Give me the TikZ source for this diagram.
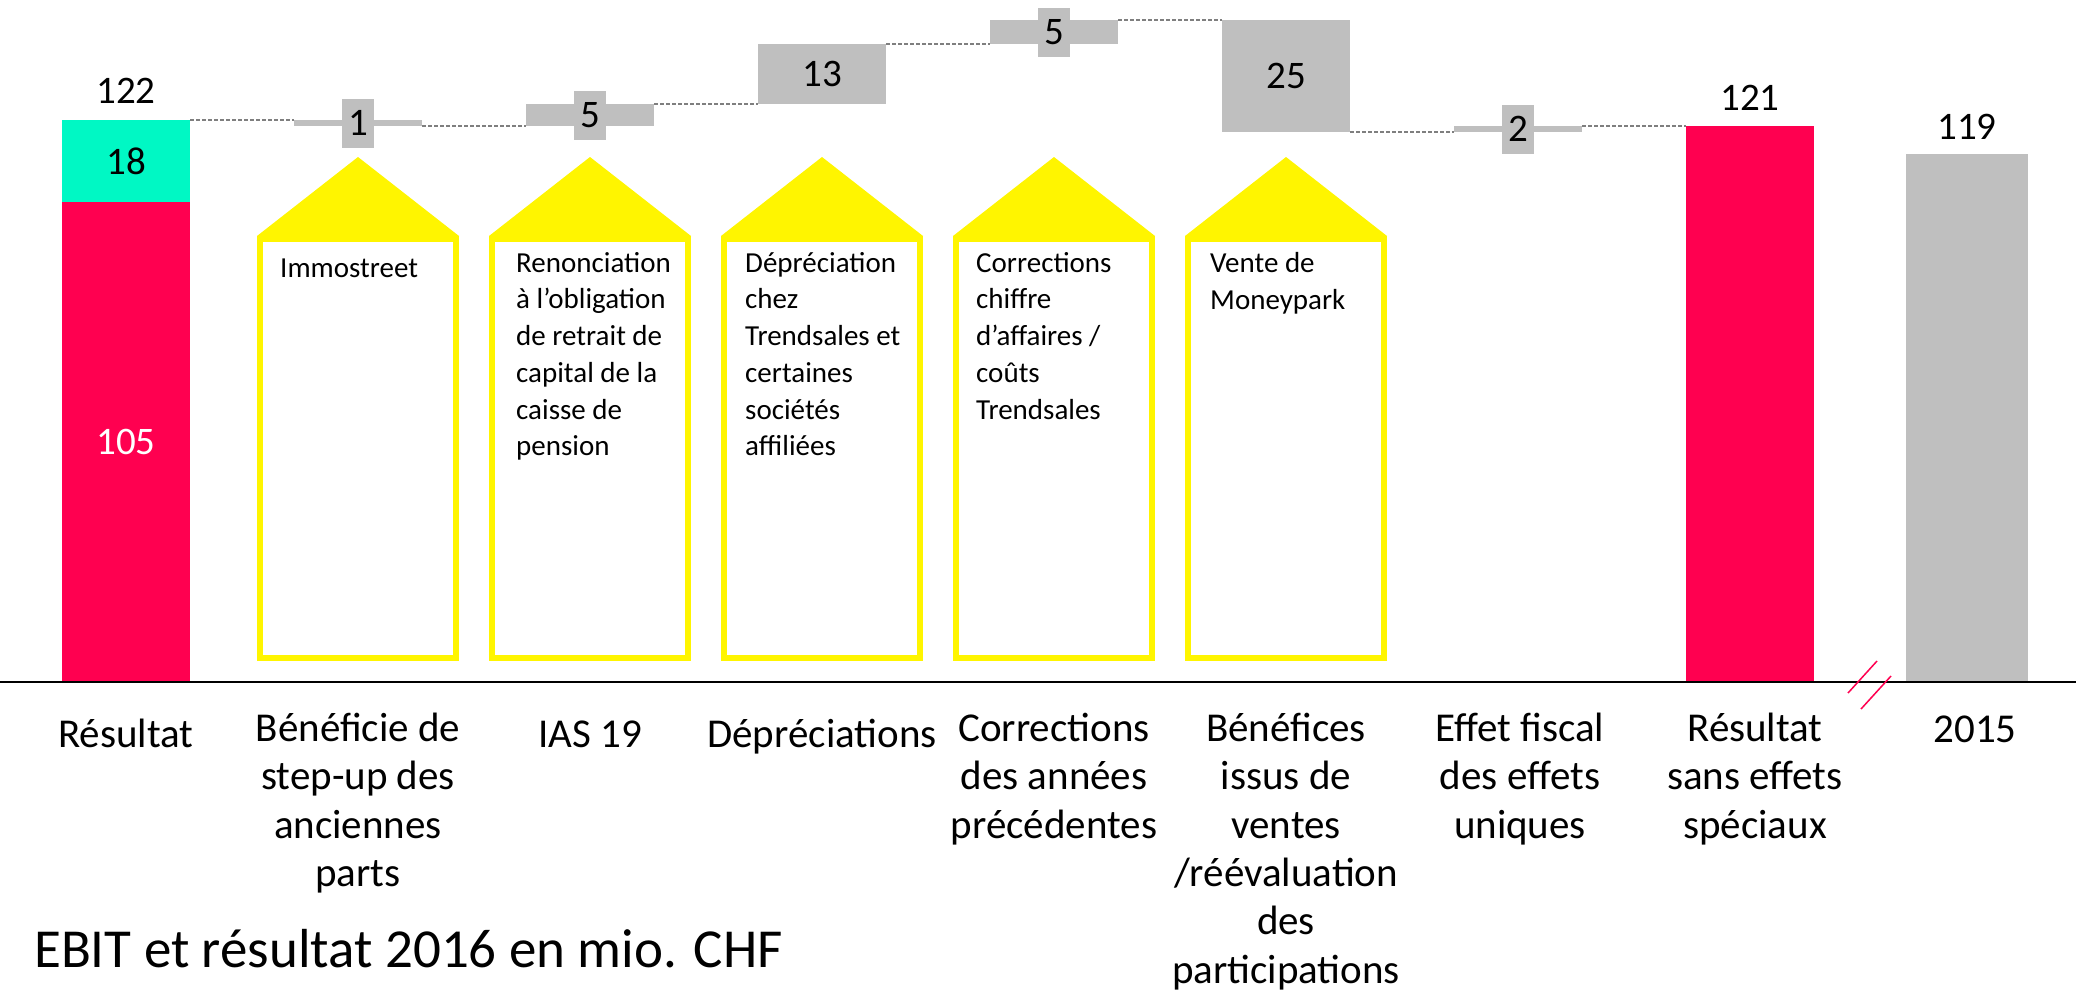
\documentclass[tikz,border=0pt]{standalone}
\usepackage{fontspec}
\setmainfont{Carlito}
\definecolor{resred}{HTML}{FF0050}
\definecolor{resteal}{HTML}{00F8C4}
\definecolor{bargray}{HTML}{BFBFBF}
\definecolor{housey}{HTML}{FFF500}
\definecolor{linkgray}{HTML}{7F7F7F}

\begin{document}
\begin{tikzpicture}[x=1pt,y=-1pt,
    bar/.style={inner sep=0pt,outer sep=0pt,minimum width=128pt,font=\fontsize{39}{44}\selectfont},
    delta/.style={bar,fill=bargray},
    tag/.style={fill=bargray,inner xsep=6pt,inner ysep=0pt,minimum height=49pt,font=\fontsize{39}{44}\selectfont},
    val/.style={anchor=base,inner sep=0pt,font=\fontsize{39}{44}\selectfont},
    link/.style={dash pattern=on 4pt off 2pt,draw=linkgray,line width=1.5pt},
    cat/.style={anchor=north,align=center,inner sep=0pt,font=\fontsize{41}{48.3}\selectfont,execute at begin node=\strut},
    note/.style={anchor=north west,align=left,inner sep=0pt,font=\fontsize{29}{36.7}\selectfont,execute at begin node=\strut},
    roof/.style={fill=housey,draw=none},
    wall/.style={draw=housey,line width=6pt}]
    \useasboundingbox (0,0) rectangle (2085,993);

    % bars
    \node[bar,fill=resteal,minimum height=82pt] (res18) at (126,161) {18};
    \node[bar,fill=resred,minimum height=480pt,text=white] (res105) at (126,442) {105};
    \node[delta,minimum height=6pt] (d1) at (358,123) {};
    \node[delta,minimum height=22pt] (d2) at (590,115) {};
    \node[delta,minimum height=60pt] (d3) at (822,74) {};
    \node[delta,minimum height=24pt] (d4) at (1054,32) {};
    \node[delta,minimum height=112pt] (d5) at (1286,76) {};
    \node[delta,minimum height=6pt] (d6) at (1518,129) {};
    \node[bar,fill=resred,minimum height=556pt] (r121) at (1750,404) {};
    \node[bar,fill=bargray,minimum width=122pt,minimum height=528pt] (r119) at (1967,418) {};

    \node[tag] (t1) at (d1) {1};
    \node[tag] (t2) at (d2) {5};
    \node[tag] (t3) at (d3) {13};
    \node[tag] (t4) at (d4) {5};
    \node[tag] (t5) at (d5) {25};
    \node[tag] (t6) at (d6) {2};

    \node[val] (v122) at (126,103) {122};
    \node[val] (v121) at (1750,110) {121};
    \node[val] (v119) at (1967,139) {119};

    \draw (res18.north east) edge[link] (d1.north west);
    \draw (d1.south east) edge[link] (d2.south west);
    \draw (d2.north east) edge[link] (d3.south west);
    \draw (d3.north east) edge[link] (d4.south west);
    \draw (d4.north east) edge[link] (d5.north west);
    \draw (d5.south east) edge[link] (d6.south west);
    \draw (d6.north east) edge[link] (r121.north west);

    % houses
    \fill[roof] (358,157) -- (257,236) -- (459,236) -- cycle;
    \draw[wall] (260,239) rectangle (456,658);
    \node[note] (n1) at (280,252) {Immostreet};
    \fill[roof] (590,157) -- (489,236) -- (691,236) -- cycle;
    \draw[wall] (492,239) rectangle (688,658);
    \node[note] (n2) at (516,252) {Renonciation\\à l’obligation\\de retrait de\\capital de la\\caisse de\\pension};
    \fill[roof] (822,157) -- (721,236) -- (923,236) -- cycle;
    \draw[wall] (724,239) rectangle (920,658);
    \node[note] (n3) at (745,252) {Dépréciation\\chez\\Trendsales et\\certaines\\sociétés\\affiliées};
    \fill[roof] (1054,157) -- (953,236) -- (1155,236) -- cycle;
    \draw[wall] (956,239) rectangle (1152,658);
    \node[note] (n4) at (976,252) {Corrections\\chiffre\\d’affaires /\\coûts\\Trendsales};
    \fill[roof] (1286,157) -- (1185,236) -- (1387,236) -- cycle;
    \draw[wall] (1188,239) rectangle (1384,658);
    \node[note] (n5) at (1210,252) {Vente de\\Moneypark};

    % axis
    \coordinate (ax0) at (0,682);
    \coordinate (ax1) at (2076,682);
    \draw[line width=2pt] (ax0) -- (ax1);
    \coordinate (b1) at (1848,693);
    \coordinate (b2) at (1877,661);
    \coordinate (b3) at (1861,709);
    \coordinate (b4) at (1891,676);
    \draw[resred,line width=1.5pt] (b1) -- (b2) (b3) -- (b4);

    % categories
    \node[cat] (c1) at (126,713) {Résultat};
    \node[cat] (c2) at (358,713) {Bénéficie de\\step-up des\\anciennes\\parts};
    \node[cat] (c3) at (590,713) {IAS 19};
    \node[cat] (c4) at (822,713) {Dépréciations};
    \node[cat] (c5) at (1054,713) {Corrections\\des années\\précédentes};
    \node[cat] (c6) at (1286,713) {Bénéfices\\issus de\\ventes\\/réévaluation\\des\\participations};
    \node[cat] (c7) at (1520,713) {Effet fiscal\\des effets\\uniques};
    \node[cat] (c8) at (1755,713) {Résultat\\sans effets\\spéciaux};
    \node[cat] (c9) at (1975,708) {2015};

    \node[anchor=base west,inner sep=0pt,font=\fontsize{55}{62}\selectfont] (title) at (34,967) {EBIT et résultat 2016 en mio. CHF};
\end{tikzpicture}
\end{document}
